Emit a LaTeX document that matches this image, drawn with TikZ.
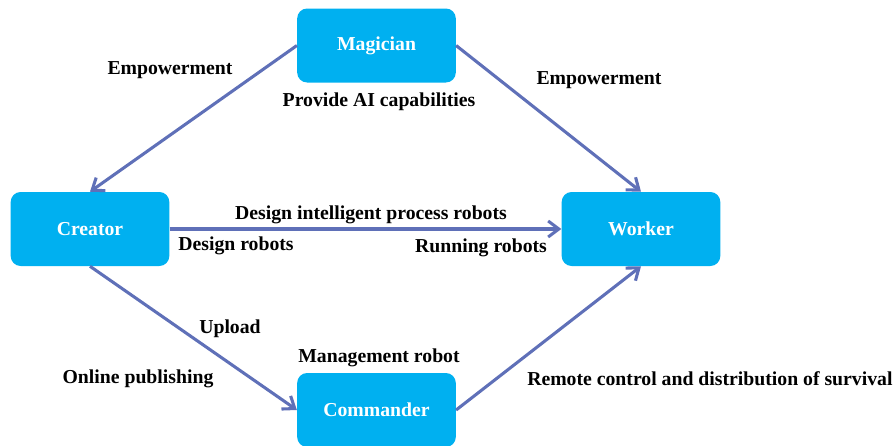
\documentclass[tikz,border=0pt]{standalone}
\usepackage{fontspec}
\setmainfont{Liberation Serif}
\usetikzlibrary{arrows.meta}
\definecolor{roleblue}{RGB}{0,176,240}
\definecolor{flowblue}{RGB}{95,112,184}
\tikzset{every picture/.append style={x=0.75pt, y=-0.75pt}}
\tikzset{
    role/.style={rounded corners=7.5pt, fill=roleblue, draw=none,
    	text=white, minimum width=119pt, minimum height=55.5pt,
    	font=\bfseries\fontsize{14.8}{17}\selectfont},
    note/.style={inner sep=0pt, font=\bfseries\fontsize{14.8}{17}\selectfont},
    flow/.style={draw=flowblue, line width=2.3pt,
    	-{Straight Barb[length=8pt, width=12pt, line width=2.3pt]}}
}

\begin{document}
\begin{tikzpicture}
  \useasboundingbox (0,0) rectangle (893,446);
  \node (mag) [role] at (376.5, 45.5) {Magician};
  \node (cre) [role] at (90, 229) {Creator};
  \node (wor) [role] at (641, 229) {Worker};
  \node (com) [role] at (376.5, 410) {Commander};

  \node (empl) [note] at (170, 70) {Empowerment};
  \node (prov) [note] at (379, 102) {Provide AI capabilities};
  \node (empr) [note] at (599, 80) {Empowerment};
  \node (dipr) [note] at (371, 215) {Design intelligent process robots};
  \node (desr) [note] at (236, 246) {Design robots};
  \node (runr) [note] at (481, 248) {Running robots};
  \node (upld) [note] at (230, 329) {Upload};
  \node (mgmt) [note] at (379, 358) {Management robot};
  \node (onln) [note] at (138, 379) {Online publishing};
  \node (remc) [note, anchor=west] at (527, 379) {Remote control and distribution of survival};

  \draw [flow] (mag.west) -- (cre.north);
  \draw [flow] (mag.east) -- (wor.north);
  \draw [flow] (cre.east) -- (wor.west);
  \draw [flow] (cre.south) -- (com.west);
  \draw [flow] (com.east) -- (wor.south);
\end{tikzpicture}
\end{document}
